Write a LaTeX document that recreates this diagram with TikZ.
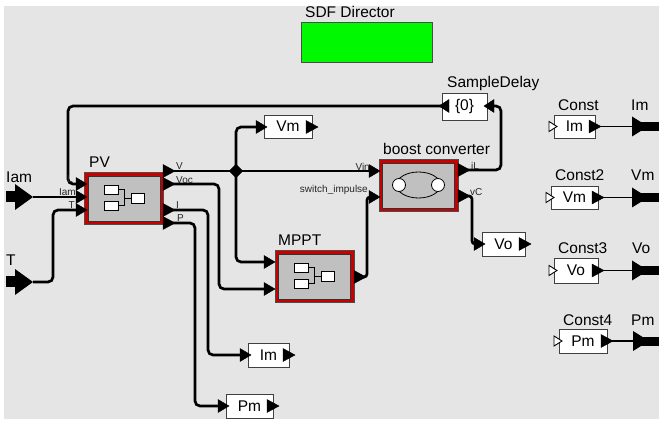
\documentclass[tikz,border=0pt]{standalone}
\usepackage{fontspec}
\setmainfont{Liberation Sans}
\usetikzlibrary{shapes.geometric}
\definecolor{canvas}{RGB}{229,229,229}
\definecolor{ptred}{RGB}{200,0,0}
\definecolor{ptgray}{RGB}{192,192,192}
\definecolor{ptgreen}{RGB}{0,248,0}
\newcommand{\bigtext}{\fontsize{15.5}{18}\selectfont}
\newcommand{\porttext}{\fontsize{10}{12}\selectfont}
\tikzset{
  wire/.style={line width=2.7pt, rounded corners=5pt},
  shortwire/.style={line width=2.7pt, rounded corners=3pt},
  thinwire/.style={line width=1.8pt},
  title/.style={font=\bigtext, anchor=west, inner sep=0pt},
  plabel/.style={font=\porttext, inner sep=0pt, text=black!85},
  smallbox/.style={draw=black!75, fill=white, line width=0.9pt, inner sep=0pt,
    font=\bigtext, minimum height=23pt},
  block/.style={draw=black!70, fill=ptred, line width=0.6pt, inner sep=0pt,
    minimum width=79pt, minimum height=52pt},
  blockface/.style={draw=black!80, fill=ptgray, line width=0.6pt, inner sep=0pt,
    minimum width=72pt, minimum height=45pt},
  inport/.pic={\filldraw[line width=0.4pt] (-11,-6.5) -- (0,0) -- (-11,6.5) -- cycle;},
  hollowport/.pic={\filldraw[fill=white, line width=0.9pt] (-8,-5) -- (0,0) -- (-8,5) -- cycle;},
  outport/.pic={\filldraw[line width=0.4pt] (0,-6.5) -- (12,0) -- (0,6.5) -- cycle;},
  leftport/.pic={\filldraw[line width=0.4pt] (10,-6.5) -- (0,0) -- (10,6.5) -- cycle;},
  extin/.pic={\fill (-27,-5.5) rectangle (-16,5.5); \fill (-18,-13) -- (0,0) -- (-18,13) -- cycle;},
  extout/.pic={\fill (0,-10) -- (16,0) -- (0,10) -- cycle; \fill (8,-4.5) rectangle (27,4.5);},
  compicon/.pic={
    \draw[fill=white, line width=0.8pt] (-20,-13.5) rectangle (-6,-4.5);
    \draw[fill=white, line width=0.8pt] (-20,2.5) rectangle (-6,11.5);
    \draw[fill=white, line width=0.8pt] (7,-5) rectangle (20,4.5);
    \draw[line width=0.8pt] (-6,-9) -- (0,-9) -- (0,7) -- (-6,7);
    \draw[line width=0.8pt] (0,-0.25) -- (7,-0.25);
  },
}
\begin{document}
\begin{tikzpicture}[x=1pt, y=-1pt]
\useasboundingbox (0,0) rectangle (659,422);
\fill[white] (0,0) rectangle (659,422);
\fill[canvas] (4,6) rectangle (659,419);

% director
\node[title] (dirlabel) at (305,12) {SDF Director};
\node[draw=black!70, fill=ptgreen, line width=0.8pt, minimum width=131pt, minimum height=40pt] (dir) at (366.5,42) {};

% port anchor points (base of each port triangle)
\coordinate (extIam) at (33,197);
\coordinate (extT) at (33,282);
\coordinate (pvL) at (77,184);
\coordinate (pvIam) at (77,197);
\coordinate (pvT) at (77,210);
\coordinate (pvV) at (163,171);
\coordinate (pvVoc) at (163,184);
\coordinate (pvI) at (163,210);
\coordinate (pvP) at (163,223);
\coordinate (mpIn1) at (265,262);
\coordinate (mpIn2) at (265,289);
\coordinate (mpOut) at (354,277);
\coordinate (bVin) at (369,171);
\coordinate (bSw) at (369,197);
\coordinate (bIL) at (458,170);
\coordinate (bVC) at (458,196);
\coordinate (sdOut) at (449,106);
\coordinate (sdIn) at (494,106);
\coordinate (vmIn) at (257,127);
\coordinate (voIn) at (475,244);
\coordinate (imIn) at (241,355);
\coordinate (pmIn) at (219,406);
\coordinate (c1Out) at (589,126.5);
\coordinate (c2Out) at (592,197.5);
\coordinate (c3Out) at (592,270.5);
\coordinate (c4Out) at (601,341);
\coordinate (outIm) at (632,126.5);
\coordinate (outVm) at (632,197.5);
\coordinate (outVo) at (632,270.5);
\coordinate (outPm) at (633,341);

\node[fill, diamond, inner sep=0pt, minimum size=14pt] (split) at (236,171) {};

% relations
\draw[wire] (extIam) -- (pvIam);
\draw[wire] (extT) -- (53,282) |- (pvT);
\draw[wire] (sdOut) -- (68,106) |- (pvL);
\draw[wire] (pvV) -- (split.center) -- (bVin);
\draw[wire] (split.center) |- (vmIn);
\draw[wire] (split.center) |- (mpIn1);
\draw[wire] (pvVoc) -- (219,184) |- (mpIn2);
\draw[wire] (pvI) -- (208,210) |- (imIn);
\draw[wire] (pvP) -- (195,223) |- (pmIn);
\draw[shortwire] (mpOut) -- (367,277) |- (bSw);
\draw[wire] (bIL) -- (501,170) |- (sdIn);
\draw[shortwire] (bVC) -- (472,196) |- (voIn);
\draw[thinwire] (c1Out) -- (outIm);
\draw[thinwire] (c2Out) -- (outVm);
\draw[thinwire] (c3Out) -- (outVo);
\draw[thinwire] (c4Out) -- (outPm);
\node[fill, diamond, inner sep=0pt, minimum size=14pt] at (split) {};

% composite actors
\node[block] (pv) at (124,198.5) {};
\node[blockface] at (pv) {};
\pic at (pv) {compicon};
\node[title] (pvlabel) at (89,162) {PV};

\node[block] (mppt) at (314.5,276.5) {};
\node[blockface] at (mppt) {};
\pic at (mppt) {compicon};
\node[title] (mpptlabel) at (278,240) {MPPT};

\node[block] (boost) at (418.5,185.5) {};
\node[blockface] at (boost) {};
\draw[line width=0.8pt] (418.5,185) ellipse [x radius=22, y radius=13];
\filldraw[fill=white, line width=0.8pt] (399,185) circle [radius=6.5];
\filldraw[fill=white, line width=0.8pt] (438,185) circle [radius=6.5];
\node[title] (boostlabel) at (383,149) {boost converter};

% small actors
\node[smallbox, minimum width=45pt, minimum height=27pt] (sd) at (464.5,106.5) {\{0\}};
\node[title] (sdlabel) at (447,83) {SampleDelay};
\node[smallbox, minimum width=48pt] (vmtop) at (288,126.5) {Vm};
\node[smallbox, minimum width=43pt, minimum height=24pt] (vo) at (503.5,244) {Vo};
\node[smallbox, minimum width=41pt, minimum height=24pt] (im) at (268.5,355) {Im};
\node[smallbox, minimum width=47pt, minimum height=24pt] (pm) at (249.5,406) {Pm};

\node[smallbox, minimum width=41pt] (c1) at (574.5,126.5) {Im};
\node[smallbox, minimum width=47pt] (c2) at (574.5,197.5) {Vm};
\node[smallbox, minimum width=44pt, minimum height=25pt] (c3) at (576,270.5) {Vo};
\node[smallbox, minimum width=48pt, minimum height=24pt] (c4) at (583,341) {Pm};
\node[title] (c1label) at (558,105) {Const};
\node[title] (c2label) at (555,175.5) {Const2};
\node[title] (c3label) at (558,248) {Const3};
\node[title] (c4label) at (563,320.5) {Const4};

% external ports
\pic at (extIam) {extin};
\pic at (extT) {extin};
\node[title] (iamlabel) at (6,177) {Iam};
\node[title] (tlabel) at (6,260.5) {T};
\pic at (outIm) {extout};
\pic at (outVm) {extout};
\pic at (outVo) {extout};
\pic at (outPm) {extout};
\node[title] (imlabel) at (631,105) {Im};
\node[title] (vmlabel) at (631,175.5) {Vm};
\node[title] (volabel) at (632,248) {Vo};
\node[title] (pmlabel) at (631,320.5) {Pm};

% actor ports
\pic at (87,184) {inport};
\pic at (87,197) {inport};
\pic at (87,210) {inport};
\pic at (pvV) {outport};
\pic at (pvVoc) {outport};
\pic at (pvI) {outport};
\pic at (pvP) {outport};
\pic at (275,262) {inport};
\pic at (275,289) {inport};
\pic at (mpOut) {outport};
\pic at (380,171) {inport};
\pic at (380,197) {inport};
\pic at (bIL) {outport};
\pic at (bVC) {outport};
\pic at (439,106) {leftport};
\pic at (484,106) {leftport};
\pic at (267,127) {inport};
\pic at (306,127) {outport};
\pic at (485,244) {inport};
\pic at (519,244) {outport};
\pic at (251,355) {inport};
\pic at (283,355) {outport};
\pic at (229,406) {inport};
\pic at (267,406) {outport};
\pic at (557,126.5) {hollowport};
\pic at (c1Out) {outport};
\pic at (554,197.5) {hollowport};
\pic at (c2Out) {outport};
\pic at (557,270.5) {hollowport};
\pic at (c3Out) {outport};
\pic at (562,341) {hollowport};
\pic at (c4Out) {outport};

% port names
\node[plabel, anchor=base east] at (73,183) {L};
\node[plabel, anchor=base east] at (76,196) {Iam};
\node[plabel, anchor=base east] at (75,209) {T};
\node[plabel, anchor=base west] at (176,170) {V};
\node[plabel, anchor=base west] at (176,183.5) {Voc};
\node[plabel, anchor=base west] at (176,208.5) {I};
\node[plabel, anchor=base west] at (177,221.5) {P};
\node[plabel, anchor=base east] at (370,171) {Vin};
\node[plabel, anchor=base east] at (368,193) {switch\_impulse};
\node[plabel, anchor=base west] at (471,169.5) {iL};
\node[plabel, anchor=base west] at (470,196) {vC};
\end{tikzpicture}
\end{document}
